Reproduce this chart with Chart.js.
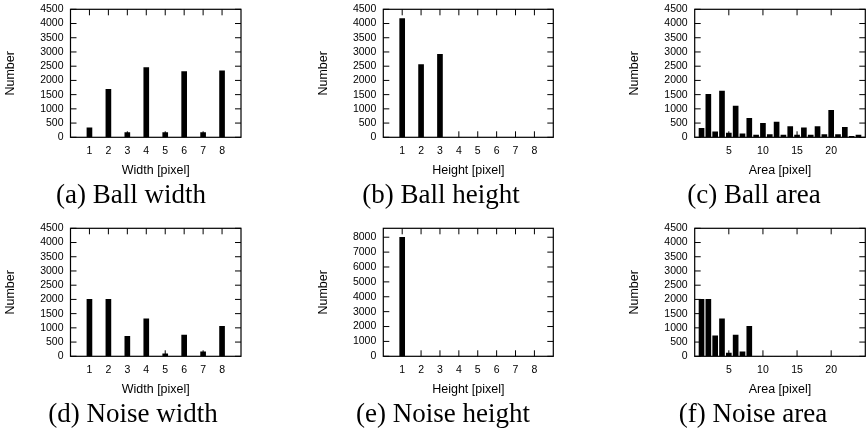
<!DOCTYPE html>
<html lang="en">
<head>
<meta charset="UTF-8">
<title>Ball and noise size histograms</title>
<script src="https://cdn.jsdelivr.net/npm/chart.js"></script>
<style>
  body { margin: 0; background: #fff; }
  #figure { position: relative; width: 868px; height: 434px; overflow: hidden; }
  #figure canvas { position: absolute; }
  .caption {
    position: absolute; width: 260px; text-align: center;
    font-family: "Liberation Serif", serif; font-size: 27px; line-height: 27px;
    color: #000; white-space: nowrap;
  }
</style>
</head>
<body>
<div id="figure"></div>
<script>
// bins and tick values
const pixelBins = [1, 2, 3, 4, 5, 6, 7, 8];
const areaBins = [1, 2, 3, 4, 5, 6, 7, 8, 9, 10, 11, 12, 13, 14, 15, 16, 17, 18, 19, 20, 21, 22, 23, 24];
const pixelTicks = [1, 2, 3, 4, 5, 6, 7, 8];
const areaTicks = [5, 10, 15, 20];
const countTicks = [0, 500, 1000, 1500, 2000, 2500, 3000, 3500, 4000, 4500];
const bigCountTicks = [0, 1000, 2000, 3000, 4000, 5000, 6000, 7000, 8000];

// counts
const ballWidth = [330, 1690, 170, 2455, 170, 2310, 170, 2340];
const ballHeight = [4170, 2555, 2920, 0, 0, 0, 0, 0];
const ballArea = [318, 1510, 193, 1625, 150, 1100, 125, 670, 80, 490, 100, 535, 80, 375, 80, 330, 80, 375, 100, 945, 100, 352, 34, 80];
const noiseWidth = [2005, 2005, 705, 1318, 90, 750, 160, 1057];
const noiseHeight = [8000, 0, 0, 0, 0, 0, 0, 0];
const noiseArea = [2005, 2005, 720, 1318, 110, 750, 160, 1057, 0, 0, 0, 0, 0, 0, 0, 0, 0, 0, 0, 0, 0, 0, 0, 0];

Chart.defaults.font.family = '"Liberation Sans", Arial, sans-serif';
Chart.defaults.color = '#000';

const panels = [
  { caption: '(a) Ball width',   xTitle: 'Width [pixel]',  bins: pixelBins, values: ballWidth,   xTicks: pixelTicks, xMax: 9,  yMax: 4500, yTicks: countTicks,
    box: [70.5, 241, 4.7, 137.3], cap: [131, 181.4] },
  { caption: '(b) Ball height',  xTitle: 'Height [pixel]', bins: pixelBins, values: ballHeight,  xTicks: pixelTicks, xMax: 9,  yMax: 4500, yTicks: countTicks,
    box: [383.3, 553.3, 4.7, 137.3], cap: [441, 181.4] },
  { caption: '(c) Ball area',    xTitle: 'Area [pixel]',   bins: areaBins,  values: ballArea,    xTicks: areaTicks,  xMax: 25, yMax: 4500, yTicks: countTicks,
    box: [694.7, 865.3, 4.7, 137.3], cap: [754, 181.4] },
  { caption: '(d) Noise width',  xTitle: 'Width [pixel]',  bins: pixelBins, values: noiseWidth,  xTicks: pixelTicks, xMax: 9,  yMax: 4500, yTicks: countTicks,
    box: [70.5, 241, 223, 356.3], cap: [133, 400.4] },
  { caption: '(e) Noise height', xTitle: 'Height [pixel]', bins: pixelBins, values: noiseHeight, xTicks: pixelTicks, xMax: 9,  yMax: 8600, yTicks: bigCountTicks,
    box: [383.3, 553.3, 223, 356.3], cap: [443, 400.4] },
  { caption: '(f) Noise area',   xTitle: 'Area [pixel]',   bins: areaBins,  values: noiseArea,   xTicks: areaTicks,  xMax: 25, yMax: 4500, yTicks: countTicks,
    box: [694.7, 865.3, 223, 356.3], cap: [753, 400.4] }
];

// gnuplot-like frame with inward ticks on all four sides
const frameTicks = {
  id: 'frameTicks',
  afterDatasetsDraw(chart) {
    const { ctx, chartArea: a, scales: { x, y } } = chart;
    ctx.save();
    ctx.strokeStyle = '#000';
    ctx.lineWidth = 1;
    ctx.beginPath();
    x.ticks.forEach(t => {
      const px = x.getPixelForValue(t.value);
      ctx.moveTo(px, a.bottom); ctx.lineTo(px, a.bottom - 6);
      ctx.moveTo(px, a.top); ctx.lineTo(px, a.top + 6);
    });
    y.ticks.forEach(t => {
      const py = y.getPixelForValue(t.value);
      ctx.moveTo(a.left, py); ctx.lineTo(a.left + 6, py);
      ctx.moveTo(a.right, py); ctx.lineTo(a.right - 6, py);
    });
    ctx.stroke();
    ctx.lineWidth = 1.2;
    ctx.strokeRect(a.left, a.top, a.right - a.left, a.bottom - a.top);
    ctx.restore();
  }
};

const figure = document.getElementById('figure');
const Y_AXIS_W = 67.5, X_AXIS_H = 40.5;

panels.forEach(p => {
  const [pl, pr, pt, pb] = p.box;
  const cl = Math.floor(pl - 68);
  const ct = Math.floor(pt) - 8;
  const w = Math.ceil(pr - cl) + 4;
  const h = Math.ceil(pb - ct + X_AXIS_H) + 2;

  const canvas = document.createElement('canvas');
  canvas.width = w; canvas.height = h;
  canvas.style.left = cl + 'px'; canvas.style.top = ct + 'px';
  figure.appendChild(canvas);

  const cap = document.createElement('div');
  cap.className = 'caption';
  cap.textContent = p.caption;
  cap.style.left = (p.cap[0] - 130) + 'px';
  cap.style.top = p.cap[1] + 'px';
  figure.appendChild(cap);

  new Chart(canvas, {
    type: 'bar',
    data: {
      datasets: [{
        data: p.bins.map((b, i) => ({ x: b, y: p.values[i] })),
        backgroundColor: '#000',
        borderWidth: 0,
        barThickness: 5
      }]
    },
    options: {
      responsive: false,
      animation: false,
      layout: {
        padding: {
          left: pl - cl - Y_AXIS_W,
          top: pt - ct,
          right: w - (pr - cl),
          bottom: h - (pb - ct) - X_AXIS_H
        }
      },
      plugins: { legend: { display: false }, tooltip: { enabled: false } },
      scales: {
        x: {
          type: 'linear', min: 0, max: p.xMax, offset: false,
          afterBuildTicks: s => { s.ticks = p.xTicks.map(v => ({ value: v })); },
          afterFit: s => { s.height = X_AXIS_H; },
          grid: { display: false, drawTicks: false, offset: false },
          border: { display: false },
          ticks: { autoSkip: false, maxRotation: 0, padding: 8, font: { size: 10.5 },
                   callback: v => String(v) },
          title: { display: true, text: p.xTitle, padding: 0, font: { size: 12.5 } }
        },
        y: {
          min: 0, max: p.yMax,
          afterBuildTicks: s => { s.ticks = p.yTicks.map(v => ({ value: v })); },
          afterFit: s => { s.width = Y_AXIS_W; },
          grid: { display: false, drawTicks: false },
          border: { display: false },
          ticks: { autoSkip: false, padding: 7, font: { size: 10.5 }, callback: v => String(v) },
          title: { display: true, text: 'Number', padding: 0, font: { size: 12.5 } }
        }
      }
    },
    plugins: [frameTicks]
  });
});
</script>
</body>
</html>
